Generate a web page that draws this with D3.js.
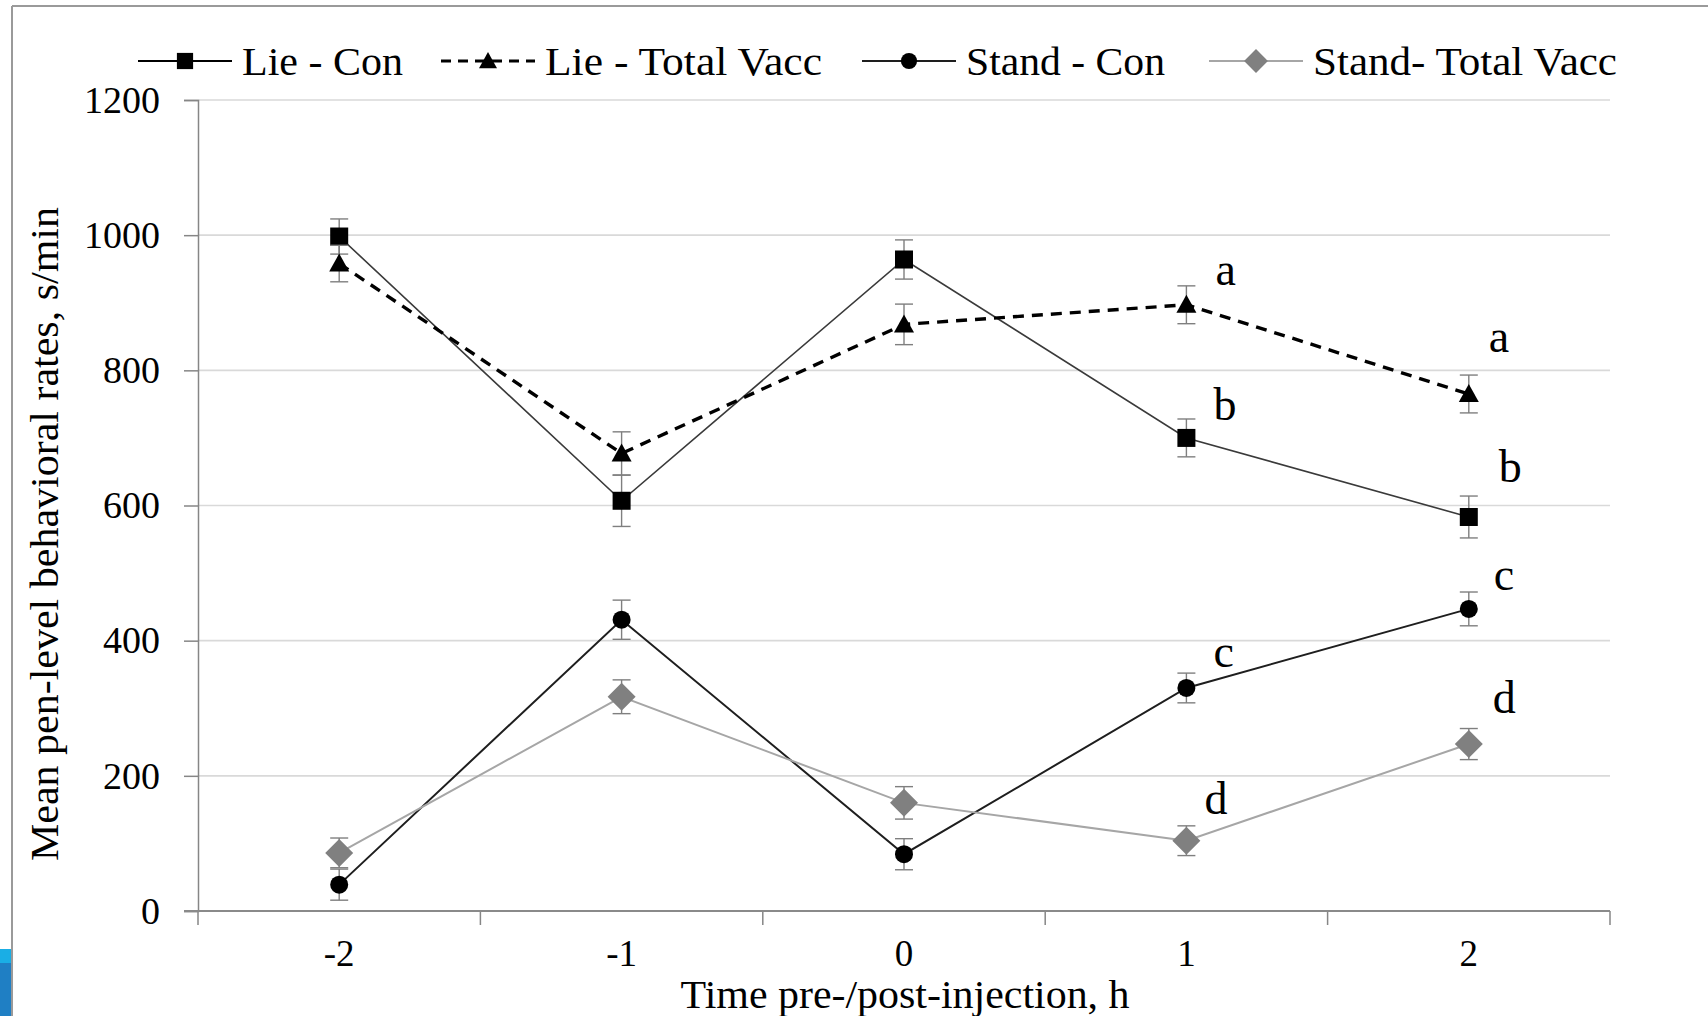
<!DOCTYPE html>
<html>
<head>
<meta charset="utf-8">
<script src="https://cdn.jsdelivr.net/npm/d3@7/dist/d3.min.js"></script>
<style>
  html, body { margin: 0; padding: 0; background: #fff; }
  svg { display: block; }
  text { font-family: "Liberation Serif", "Times New Roman", serif; fill: #000; }
</style>
</head>
<body>
<svg id="chart" width="1708" height="1016"></svg>
<script>
// ---------- DATA ----------
const categories = ["-2", "-1", "0", "1", "2"];
const yTicks = [0, 200, 400, 600, 800, 1000, 1200];

const lieCon      = [998, 607, 964, 700, 583];
const lieConErr   = [26, 38, 29, 28, 31];
const lieVacc     = [958, 677, 868, 897, 765];
const lieVaccErr  = [27, 32, 30, 28, 28];
const standCon    = [39, 431, 84, 330, 447];
const standConErr = [23, 29, 23, 22, 25];
const standVacc   = [86, 317, 160, 104, 247];
const standVaccErr= [22, 25, 24, 22, 23];

const seriesNames = ["Lie - Con", "Lie - Total Vacc", "Stand - Con", "Stand- Total Vacc"];

// significance letters: category, series index, letter
const letterCats   = ["1", "2", "1", "2", "1", "2", "1", "2"];
const letterSeries = [1, 1, 0, 0, 2, 2, 3, 3];
const letterText   = ["a", "a", "b", "b", "c", "c", "d", "d"];

const xTitle = "Time pre-/post-injection, h";
const yTitle = "Mean pen-level behavioral rates, s/min";

// ---------- LAYOUT / STYLE ----------
const letterOffsets = [[29,-20],[20,-42],[27,-18],[30,-35],[27,-21],[25,-19],[18,-27],[24,-31]];
const legendX = [138, 441, 862, 1209];
const legendTextLen = [161, 277, 199, 304];
const styles = [
  {stroke:"#3a3a3a", width:1.6, dash:null,   marker:"square",   fill:"#000"},
  {stroke:"#000",    width:3.4, dash:"11,8", marker:"triangle", fill:"#000"},
  {stroke:"#1e1e1e", width:2,   dash:null,   marker:"circle",   fill:"#000"},
  {stroke:"#a6a6a6", width:2,   dash:null,   marker:"diamond",  fill:"#808080"}
];
const allValues = [lieCon, lieVacc, standCon, standVacc];
const allErrs = [lieConErr, lieVaccErr, standConErr, standVaccErr];

const svg = d3.select("#chart");
const plotLeft = 198, plotRight = 1610, plotTop = 100, plotBottom = 911;

const x = d3.scaleBand().domain(categories).range([plotLeft, plotRight]).paddingInner(0).paddingOuter(0);
const cx = c => x(c) + x.bandwidth() / 2;
const y = d3.scaleLinear().domain([0, 1200]).range([plotBottom, plotTop]);

// frame + decoration
svg.append("rect").attr("x", 0).attr("y", 949).attr("width", 11).attr("height", 14).attr("fill", "#1aaee5");
svg.append("rect").attr("x", 0).attr("y", 963).attr("width", 11).attr("height", 53).attr("fill", "#1f7fc4");
svg.append("line").attr("x1", 12).attr("x2", 12).attr("y1", 6).attr("y2", 1016).attr("stroke", "#9a9a9a").attr("stroke-width", 2);
svg.append("line").attr("x1", 12).attr("x2", 1708).attr("y1", 6).attr("y2", 6).attr("stroke", "#9a9a9a").attr("stroke-width", 2);

// gridlines
svg.append("g").selectAll("line").data(yTicks.filter(v => v > 0)).join("line")
  .attr("x1", plotLeft).attr("x2", plotRight)
  .attr("y1", d => y(d)).attr("y2", d => y(d))
  .attr("stroke", "#d9d9d9").attr("stroke-width", 1.6);

// y axis
const yAxis = svg.append("g").attr("transform", `translate(${plotLeft},0)`)
  .call(d3.axisLeft(y).tickValues(yTicks).tickSize(14).tickPadding(24).tickFormat(d3.format("d")));
yAxis.select(".domain").attr("stroke", "#868686").attr("stroke-width", 1.5);
yAxis.selectAll(".tick line").attr("stroke", "#868686").attr("stroke-width", 1.5);
yAxis.selectAll(".tick text").attr("font-family", "'Liberation Serif', serif").attr("font-size", 38).attr("fill", "#000");

// x axis
const xAxis = svg.append("g").attr("transform", `translate(0,${plotBottom})`)
  .call(d3.axisBottom(x).tickSize(0).tickPadding(29));
xAxis.select(".domain").remove();
xAxis.selectAll(".tick text").attr("font-family", "'Liberation Serif', serif").attr("font-size", 37).attr("fill", "#000");
const bounds = categories.map(c => x(c)).concat([plotRight]);
svg.append("g").selectAll("line").data(bounds).join("line")
  .attr("x1", d => d).attr("x2", d => d).attr("y1", plotBottom).attr("y2", plotBottom + 14)
  .attr("stroke", "#868686").attr("stroke-width", 1.5);
svg.append("line").attr("x1", plotLeft - 14).attr("x2", plotRight).attr("y1", plotBottom).attr("y2", plotBottom)
  .attr("stroke", "#8a8a8a").attr("stroke-width", 2.2);

// titles
svg.append("text").attr("x", 905).attr("y", 1008).attr("text-anchor", "middle")
  .attr("font-size", 39).attr("textLength", 449).attr("lengthAdjust", "spacingAndGlyphs").text(xTitle);
svg.append("text").attr("transform", "translate(58,534) rotate(-90)").attr("text-anchor", "middle")
  .attr("font-size", 41).attr("textLength", 654).attr("lengthAdjust", "spacingAndGlyphs").text(yTitle);

// marker drawing
function drawMarker(g, type, px, py, fill, s) {
  if (type === "square") {
    g.append("rect").attr("x", px - 9*s).attr("y", py - 9*s).attr("width", 18*s).attr("height", 18*s).attr("fill", fill);
  } else if (type === "triangle") {
    g.append("path").attr("d", `M${px},${py-10*s} L${px+10*s},${py+8*s} L${px-10*s},${py+8*s} Z`).attr("fill", fill);
  } else if (type === "circle") {
    g.append("circle").attr("cx", px).attr("cy", py).attr("r", 9*s).attr("fill", fill);
  } else if (type === "diamond") {
    g.append("path").attr("d", `M${px},${py-14*s} L${px+14*s},${py} L${px},${py+14*s} L${px-14*s},${py} Z`).attr("fill", fill);
  }
}

const line = d3.line().x((d, i) => cx(categories[i])).y(d => y(d));

allValues.forEach((vals, si) => {
  const st = styles[si];
  const g = svg.append("g");
  g.append("path").attr("d", line(vals)).attr("fill", "none")
    .attr("stroke", st.stroke).attr("stroke-width", st.width)
    .attr("stroke-dasharray", st.dash);
  vals.forEach((v, i) => {
    const px = cx(categories[i]), e = allErrs[si][i];
    const eb = g.append("g").attr("stroke", "#7f7f7f").attr("stroke-width", 1.4);
    eb.append("line").attr("x1", px).attr("x2", px).attr("y1", y(v + e)).attr("y2", y(v - e));
    eb.append("line").attr("x1", px - 9).attr("x2", px + 9).attr("y1", y(v + e)).attr("y2", y(v + e));
    eb.append("line").attr("x1", px - 9).attr("x2", px + 9).attr("y1", y(v - e)).attr("y2", y(v - e));
  });
  vals.forEach((v, i) => drawMarker(g, st.marker, cx(categories[i]), y(v), st.fill, 1));
});

// letters
letterText.forEach((t, i) => {
  const si = letterSeries[i];
  const ci = categories.indexOf(letterCats[i]);
  svg.append("text")
    .attr("x", cx(letterCats[i]) + letterOffsets[i][0])
    .attr("y", y(allValues[si][ci]) + letterOffsets[i][1])
    .attr("font-size", 46).text(t);
});

// legend
const legend = svg.append("g");
const ly = 61;
seriesNames.forEach((name, si) => {
  const st = styles[si];
  const lx = legendX[si];
  legend.append("line").attr("x1", lx).attr("x2", lx + 94).attr("y1", ly).attr("y2", ly)
    .attr("stroke", si === 0 ? "#000" : st.stroke).attr("stroke-width", si === 1 ? 3 : (si === 3 ? 2 : 1.8))
    .attr("stroke-dasharray", si === 1 ? "10,7" : null);
  drawMarker(legend, st.marker, lx + 47, ly, st.fill, si === 3 ? 0.85 : 0.9);
  legend.append("text").attr("x", lx + 104).attr("y", ly + 14).attr("font-size", 41)
    .attr("textLength", legendTextLen[si]).attr("lengthAdjust", "spacingAndGlyphs").text(name);
});
</script>
</body>
</html>
